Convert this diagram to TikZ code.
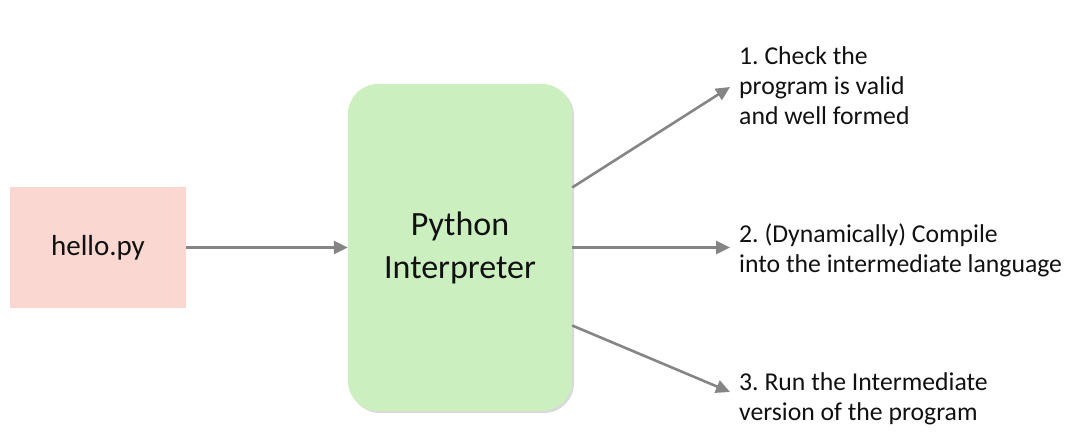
\documentclass[tikz,border=0pt]{standalone}
\usepackage{fontspec}
\setmainfont{Carlito}
\usepackage{xcolor}
\usetikzlibrary{arrows.meta,positioning,shadows}
\definecolor{filepink}{HTML}{FAD7D0}
\definecolor{interpgreen}{HTML}{CCEFC0}
\definecolor{arrowgray}{HTML}{858585}
\definecolor{textdark}{HTML}{111111}
\frenchspacing
\begin{document}
\begin{tikzpicture}[x=1pt,y=1pt, file/.style={fill=filepink,minimum width=176pt,minimum height=121pt,font=\fontsize{29}{34}\selectfont,text=textdark}, interp/.style={fill=interpgreen,rounded corners=30pt,minimum width=224pt,minimum height=327pt,align=center,font=\fontsize{34}{43}\selectfont,text=textdark,drop shadow={shadow xshift=2pt,shadow yshift=-2pt,fill=black!25,opacity=0.6}}, stage/.style={align=left,anchor=west,inner sep=6pt,font=\fontsize{25.7}{30}\selectfont,text=textdark}, arrow/.style={-{Triangle[length=14pt,width=13pt]},line width=2.6pt,draw=arrowgray}]
\useasboundingbox (0,0) rectangle (1091,433);
\node[file] (hello) at (98,185.5) {hello.py};
\node[interp] (interp) at (460,185.5) {Python\\Interpreter};
\node[stage] (check) at (733,347) {1. Check the\\program is valid\\and well formed};
\node[stage] (compile) at (733,183) {2. (Dynamically) Compile\\into the intermediate language};
\node[stage] (run) at (733,34) {3. Run the Intermediate\\version of the program};
\draw[arrow] (hello)--(interp);
\draw[arrow] ([yshift=60pt]interp.east)--([xshift=-3pt,yshift=-1pt]check.west);
\draw[arrow] (interp.east)--([xshift=-3pt]interp.east -| compile.west);
\draw[arrow] ([yshift=-78pt]interp.east)--([xshift=-3pt,yshift=7pt]run.west);
\end{tikzpicture}
\end{document}
